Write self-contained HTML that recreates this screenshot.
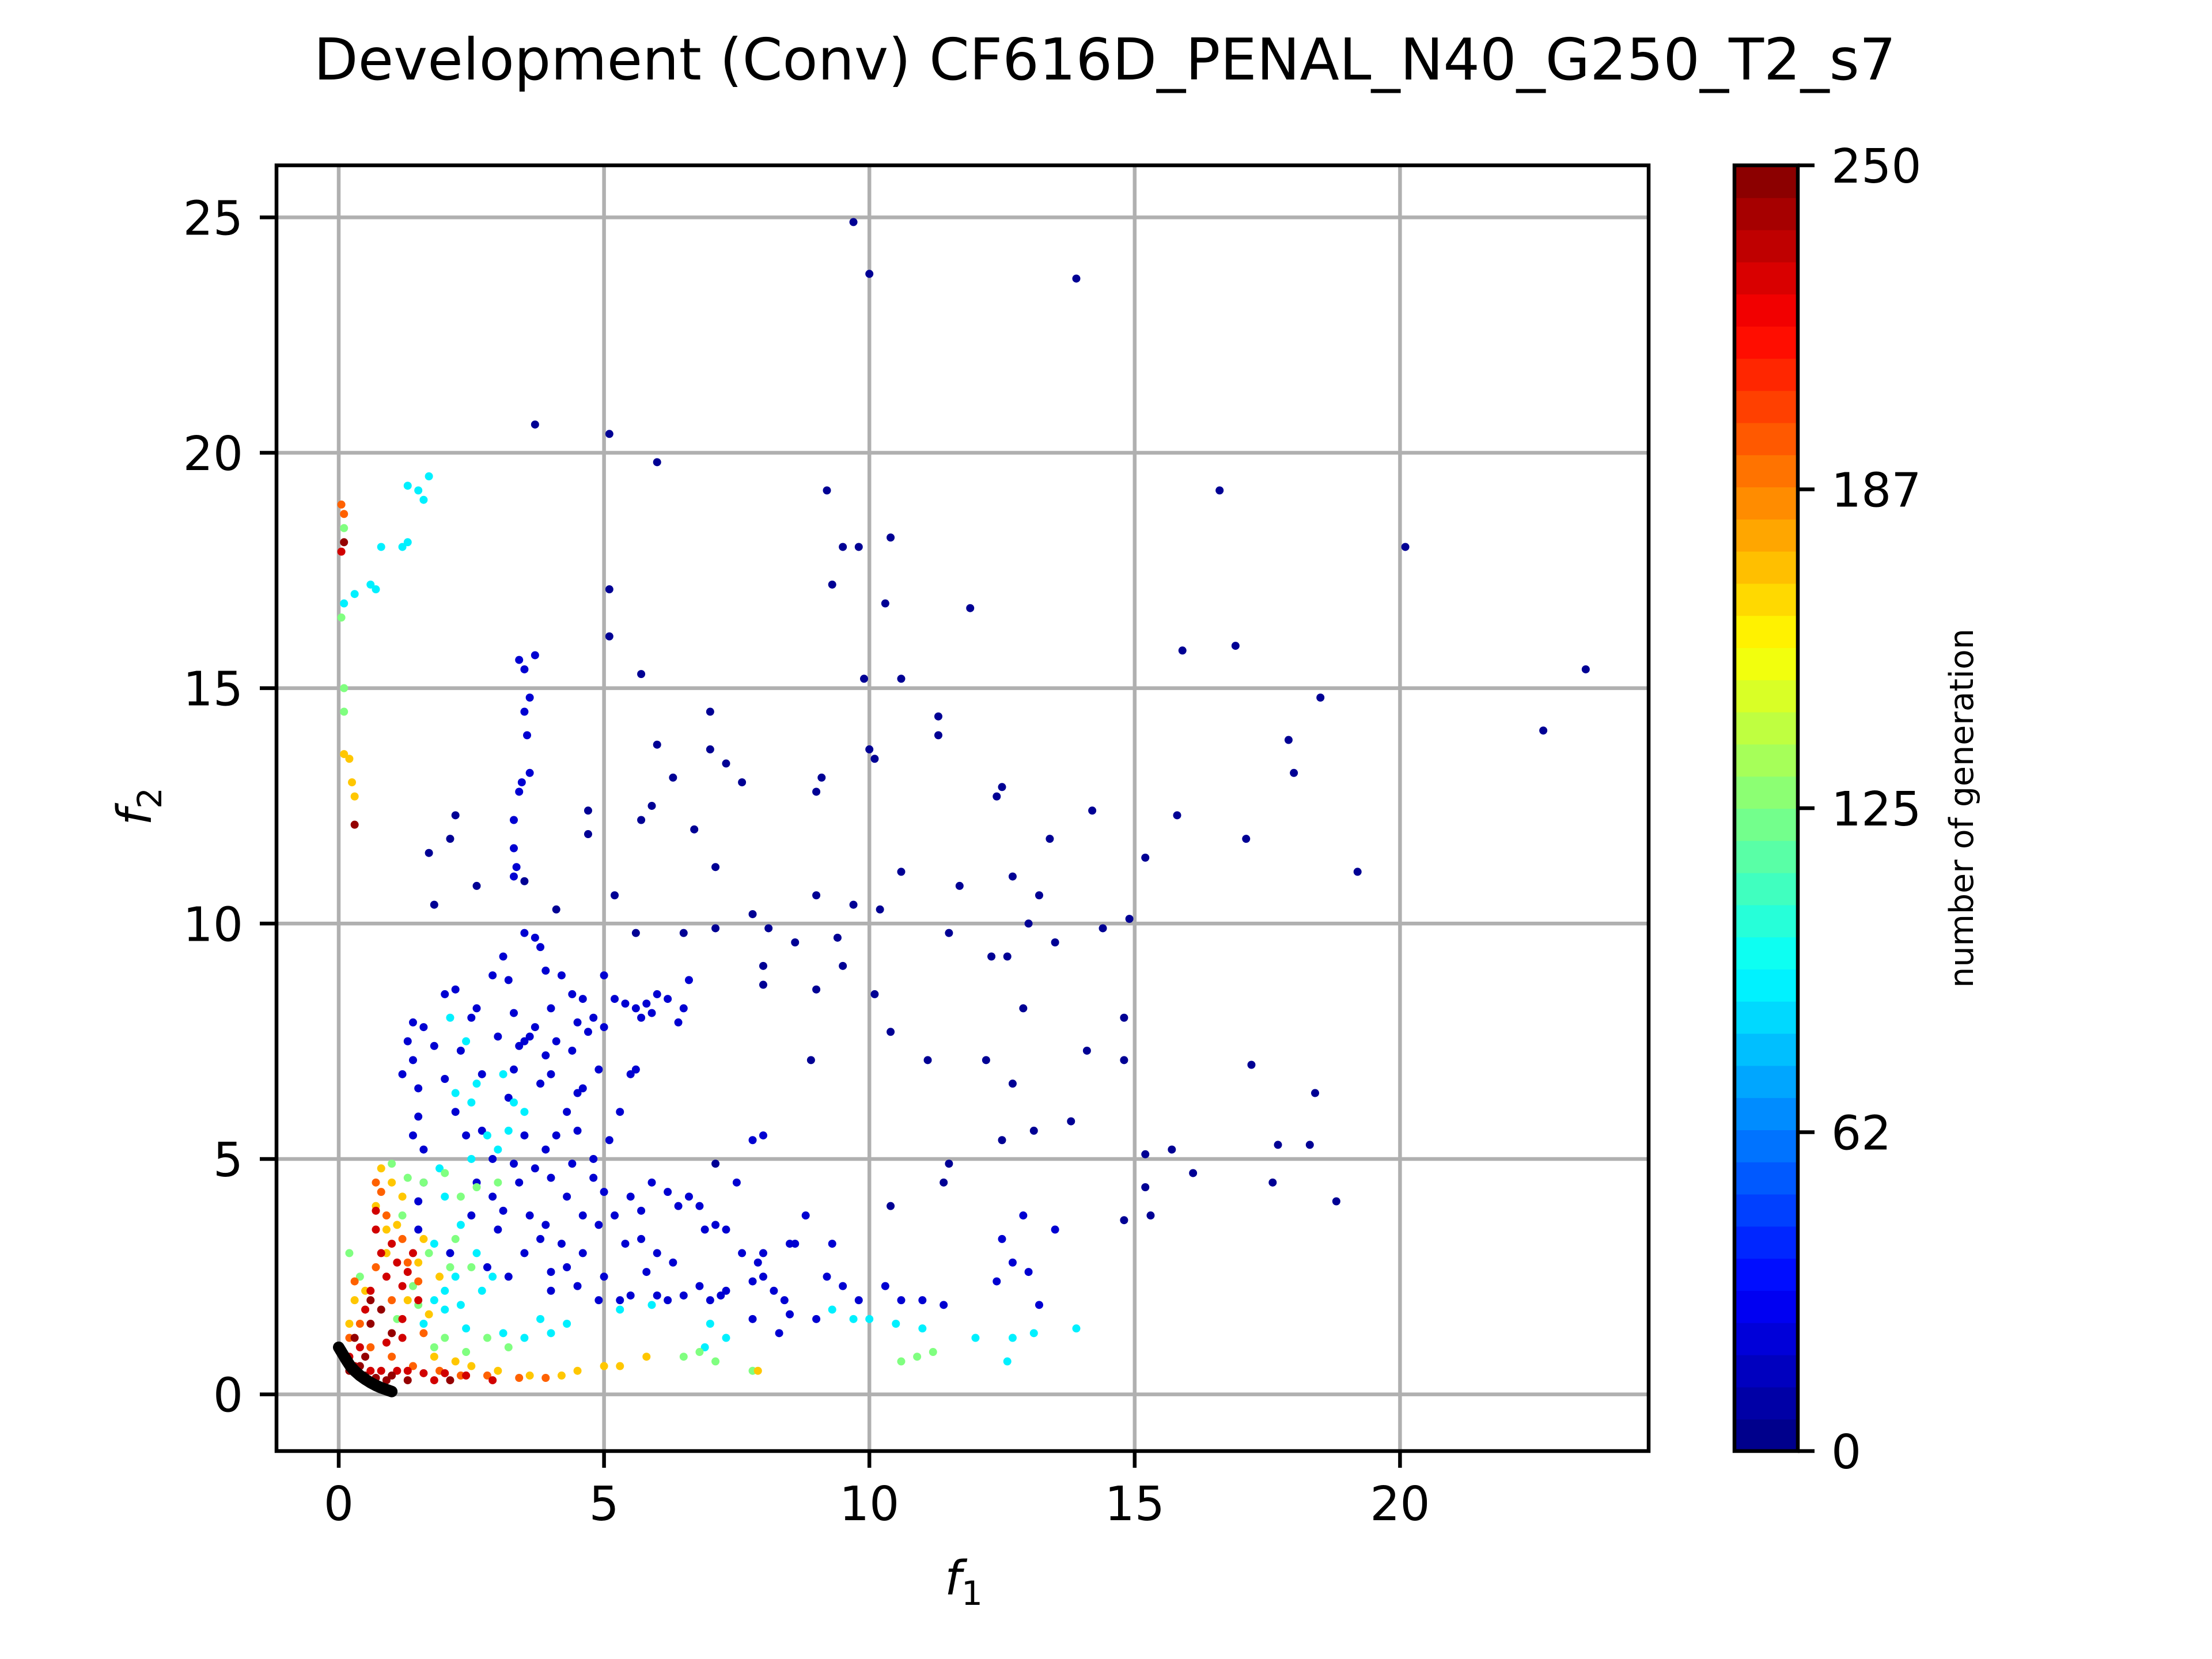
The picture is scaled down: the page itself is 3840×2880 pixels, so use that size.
<!DOCTYPE html>
<html><head><meta charset="utf-8"><style>
html,body{margin:0;padding:0;background:#fff;}
svg{display:block;font-family:"DejaVu Sans","Liberation Sans",sans-serif;}
</style></head><body>
<svg id="fig" width="3840" height="2880" viewBox="0 0 3840 2880" xmlns="http://www.w3.org/2000/svg">
<rect width="3840" height="2880" fill="#fff"/>
<text x="1918" y="138" font-size="100" text-anchor="middle">Development (Conv) CF616D_PENAL_N40_G250_T2_s7</text>
<g id="grid"></g><g id="pts"></g><g id="axes"></g><g id="cbar"></g>
</svg>
<script>
const xTicks=[0,5,10,15,20];
const yTicks=[0,5,10,15,20,25];
const cbarTicks=[0,62,125,187,250];
const groupGen=[5,20,90,125,170,195,230,245];
const outlierPts=[[9.7,24.9],[10.0,23.8],[13.9,23.7],[3.7,20.6],[5.1,20.4],[6.0,19.8],[9.2,19.2],[16.6,19.2],[20.1,18.0],[10.4,18.2],[9.5,18.0],[9.8,18.0],[9.3,17.2],[10.3,16.8],[11.9,16.7],[5.1,17.1],[5.1,16.1],[16.9,15.9],[15.9,15.8],[23.5,15.4],[10.6,15.2],[9.9,15.2],[5.7,15.3],[18.5,14.8],[7.0,14.5],[11.3,14.4],[11.3,14.0],[22.7,14.1],[17.9,13.9],[6.0,13.8],[7.0,13.7],[10.0,13.7],[10.1,13.5],[18.0,13.2],[9.1,13.1],[7.6,13.0],[6.3,13.1],[7.3,13.4],[12.5,12.9],[9.0,12.8],[5.9,12.5],[12.4,12.7],[14.2,12.4],[15.8,12.3],[2.2,12.3],[4.7,12.4],[5.7,12.2],[6.7,12.0],[4.7,11.9],[2.1,11.8],[13.4,11.8],[17.1,11.8],[1.7,11.5],[7.1,11.2],[10.6,11.1],[15.2,11.4],[19.2,11.1],[11.7,10.8],[12.7,11.0],[2.6,10.8],[3.5,10.9],[5.2,10.6],[9.0,10.6],[13.2,10.6],[1.8,10.4],[9.7,10.4],[10.2,10.3],[7.8,10.2],[4.1,10.3],[13.0,10.0],[14.9,10.1],[5.6,9.8],[6.5,9.8],[7.1,9.9],[8.1,9.9],[8.6,9.6],[9.4,9.7],[11.5,9.8],[13.5,9.6],[14.4,9.9],[9.5,9.1],[12.3,9.3],[12.6,9.3],[8.0,9.1],[10.1,8.5],[9.0,8.6],[8.0,8.7],[10.4,7.7],[11.1,7.1],[12.2,7.1],[8.9,7.1],[17.2,7.0],[14.8,8.0],[14.8,7.1],[14.1,7.3],[12.7,6.6],[12.9,8.2],[18.4,6.4],[13.8,5.8],[17.7,5.3],[18.3,5.3],[12.5,5.4],[13.1,5.6],[15.7,5.2],[15.2,5.1],[16.1,4.7],[17.6,4.5],[18.8,4.1],[15.2,4.4],[14.8,3.7],[15.3,3.8],[11.4,4.5],[11.5,4.9],[10.4,4.0],[7.1,4.9]];
const bluePts=[[3.4,15.6],[3.5,15.4],[3.6,14.8],[3.5,14.5],[3.55,14.0],[3.45,13.0],[3.4,12.8],[3.3,12.2],[3.3,11.6],[3.35,11.2],[3.3,11.0],[3.7,15.7],[3.6,13.2],[3.5,9.8],[3.7,9.7],[3.8,9.5],[2.0,8.5],[2.2,8.6],[2.5,8.0],[2.6,8.2],[2.9,8.9],[3.1,9.3],[3.3,8.1],[3.6,7.6],[3.9,7.2],[4.2,8.9],[4.4,8.5],[4.6,8.4],[4.8,8.0],[5.0,8.9],[5.2,8.4],[5.4,8.3],[5.6,8.2],[5.8,8.3],[6.0,8.5],[6.2,8.4],[6.4,7.9],[6.6,8.8],[4.0,6.8],[4.3,6.0],[4.5,6.4],[4.6,6.5],[4.1,5.5],[3.9,5.2],[3.7,4.8],[4.0,4.6],[4.4,4.9],[4.8,4.6],[5.0,4.3],[5.2,3.8],[5.4,3.2],[5.7,3.3],[6.0,3.0],[6.2,4.3],[6.4,4.0],[6.6,4.2],[6.8,4.0],[7.1,3.6],[7.3,3.5],[7.6,3.0],[7.9,2.8],[8.0,2.5],[8.2,2.2],[8.5,3.2],[8.8,3.8],[9.3,3.2],[9.5,2.3],[9.8,2.0],[10.3,2.3],[10.6,2.0],[5.5,2.1],[6.0,2.1],[6.5,2.1],[7.0,2.0],[7.3,2.2],[5.0,2.5],[4.5,2.3],[4.0,2.6],[3.5,3.0],[3.0,3.5],[2.8,2.7],[3.2,2.5],[2.6,4.5],[2.4,5.5],[2.2,6.0],[2.0,6.7],[1.8,7.4],[1.6,7.8],[1.5,6.5],[1.4,5.5],[1.6,4.5],[1.5,3.5],[1.3,7.5],[1.2,6.8],[1.4,7.1],[2.7,6.8],[3.0,7.6],[3.3,6.9],[3.8,6.6],[2.9,5.0],[3.3,4.9],[4.2,3.2],[4.6,3.0],[5.6,6.9],[5.3,6.0],[5.1,5.4],[4.9,3.6],[5.9,4.5],[7.5,4.5],[8.0,5.5],[7.8,5.4],[8.5,1.7],[9.0,1.6],[12.5,3.3],[12.7,2.8],[12.9,3.8],[13.0,2.6],[13.2,1.9],[13.5,3.5],[12.4,2.4],[11.0,2.0],[11.4,1.9],[6.8,2.3],[7.8,1.6],[8.3,1.3],[9.2,2.5],[4.0,8.2],[3.4,7.4],[2.3,7.3],[3.5,5.5],[4.3,2.7],[5.8,2.6],[6.3,2.8],[5.9,8.1],[5.7,8.0],[5.5,6.8],[6.9,3.5],[8.6,3.2],[4.7,7.7],[4.9,6.9],[3.6,3.8],[3.9,3.6],[4.3,4.2],[1.4,7.9],[1.5,5.9],[1.6,5.2],[1.5,4.1],[3.5,7.5],[3.7,7.8],[4.1,7.5],[4.4,7.3],[3.2,6.3],[2.7,5.6],[2.9,4.2],[3.1,3.9],[3.8,3.3],[4.0,2.2],[4.9,2.0],[5.3,2.0],[6.2,2.0],[7.2,2.1],[7.8,2.4],[8.0,3.0],[8.4,2.0],[4.5,5.6],[4.8,5.0],[5.5,4.2],[5.7,3.9],[4.6,3.8],[3.4,4.5],[2.5,3.8],[2.1,3.0],[6.5,8.2],[5.0,7.8],[4.5,7.9],[3.9,9.0],[3.2,8.8]];
const cyanPts=[[1.2,18.0],[1.3,18.1],[1.3,19.3],[1.5,19.2],[1.6,19.0],[1.7,19.5],[2.1,8.0],[2.4,7.5],[2.2,6.4],[2.5,6.2],[2.8,5.5],[3.1,6.8],[3.3,6.2],[3.5,6.0],[3.0,5.2],[2.5,5.0],[2.0,4.2],[2.3,3.6],[2.6,3.0],[2.2,2.5],[1.8,2.0],[2.0,1.8],[2.4,1.4],[1.6,1.5],[10.0,1.6],[10.5,1.5],[11.0,1.4],[12.0,1.2],[12.7,1.2],[13.1,1.3],[13.9,1.4],[12.6,0.7],[9.7,1.6],[9.3,1.8],[7.3,1.2],[6.9,1.0],[7.0,1.5],[3.1,1.3],[3.5,1.2],[4.0,1.3],[4.3,1.5],[5.3,1.8],[5.9,1.9],[0.3,17.0],[0.6,17.2],[0.7,17.1],[0.8,18.0],[0.1,16.8],[3.8,1.6],[1.8,3.2],[2.7,2.2],[2.0,2.2],[2.3,1.9],[2.9,2.5],[3.2,5.6],[2.6,6.6],[1.9,4.8]];
const greenPts=[[0.05,16.5],[0.1,15.0],[0.1,14.5],[1.0,4.9],[1.3,4.6],[1.6,4.5],[2.0,4.7],[2.3,4.2],[2.6,4.4],[3.0,4.5],[1.2,3.8],[1.7,3.0],[1.4,2.3],[2.2,3.3],[2.5,2.7],[2.0,1.2],[2.4,0.9],[2.8,1.2],[3.2,1.0],[6.5,0.8],[6.8,0.9],[7.1,0.7],[7.8,0.5],[10.6,0.7],[10.9,0.8],[11.2,0.9],[0.2,3.0],[0.4,2.5],[1.1,1.6],[0.1,18.4],[1.8,1.0],[1.5,1.9],[2.1,2.7]];
const yellowPts=[[0.1,13.6],[0.2,13.5],[0.25,13.0],[0.3,12.7],[0.8,4.8],[1.0,4.5],[0.7,4.0],[1.1,3.6],[1.5,2.8],[1.9,2.5],[1.3,2.0],[0.5,2.2],[0.3,2.0],[1.7,1.7],[1.8,0.8],[2.2,0.7],[2.5,0.6],[3.0,0.5],[3.6,0.4],[4.2,0.4],[4.5,0.5],[5.0,0.6],[5.3,0.6],[5.8,0.8],[7.9,0.5],[0.9,3.0],[0.2,1.5],[1.2,4.2],[0.9,3.5],[1.6,3.3]];
const orangePts=[[0.05,18.9],[0.1,18.7],[0.8,4.3],[0.9,3.8],[1.2,3.3],[1.5,2.4],[1.0,2.0],[0.4,1.5],[0.2,1.2],[1.0,0.8],[1.4,0.6],[1.9,0.5],[2.3,0.4],[2.8,0.4],[3.4,0.35],[3.9,0.35],[0.3,2.4],[0.7,2.7],[1.6,1.3],[0.6,1.0],[0.7,4.5],[1.3,2.8]];
const redPts=[[0.7,3.5],[0.8,3.0],[0.9,2.5],[1.1,2.8],[1.3,2.6],[1.5,2.0],[1.2,1.6],[0.5,1.8],[0.4,1.0],[0.3,0.6],[0.6,0.5],[0.8,0.5],[1.1,0.5],[1.3,0.5],[1.6,0.45],[2.0,0.45],[2.4,0.4],[2.9,0.3],[1.8,0.3],[0.2,0.8],[1.2,1.2],[1.4,3.0],[0.05,17.9],[0.6,2.2],[0.7,3.9],[1.0,3.2],[1.2,2.3],[0.9,1.1]];
const darkRedPts=[[0.1,18.1],[0.3,12.1],[0.4,0.6],[0.5,0.4],[0.7,0.35],[0.9,0.3],[1.0,0.4],[0.6,1.5],[0.8,1.8],[0.3,1.2],[1.3,0.3],[0.2,0.5],[2.1,0.3],[1.0,1.3],[0.5,0.8],[0.6,2.0]];
const frontPts=[[0.0,1.0],[0.08,0.85],[0.15,0.72],[0.22,0.6],[0.3,0.5],[0.4,0.4],[0.5,0.32],[0.6,0.25],[0.7,0.19],[0.8,0.14],[0.9,0.1],[1.0,0.06]];

const NS='http://www.w3.org/2000/svg';
const X0=480,X1=2862,Y0=287,Y1=2519;
const fx=v=>588+v*92.12;
const fy=v=>2420.6-v*81.73;
const GMAX=250;
function jet(t){const c=v=>Math.round(255*Math.max(0,Math.min(1,v)));
 return `rgb(${c(1.5-Math.abs(4*t-3))},${c(1.5-Math.abs(4*t-2))},${c(1.5-Math.abs(4*t-1))})`;}
function mk(tag,attrs,parent){const e=document.createElementNS(NS,tag);for(const k in attrs)e.setAttribute(k,attrs[k]);parent.appendChild(e);return e;}
const grid=document.getElementById('grid'),pts=document.getElementById('pts'),axes=document.getElementById('axes'),cbar=document.getElementById('cbar');
xTicks.forEach(v=>{const x=fx(v);
 const g=mk('line',{x1:x,x2:x,y1:Y0,y2:Y1,stroke:'#b0b0b0','stroke-width':6.5},grid);
 
 
 const t=mk('line',{x1:x,x2:x,y1:Y1,y2:Y1+29,stroke:'#000','stroke-width':6.5},axes);
 
 
 const l=mk('text',{x:x,y:Y1+29+29+62,'font-size':82,'text-anchor':'middle'},axes);l.textContent=v;
 
 
});
yTicks.forEach(v=>{const y=fy(v);
 const g=mk('line',{x1:X0,x2:X1,y1:y,y2:y,stroke:'#b0b0b0','stroke-width':6.5},grid);
 
 
 const t=mk('line',{x1:X0-29,x2:X0,y1:y,y2:y,stroke:'#000','stroke-width':6.5},axes);
 
 
 const l=mk('text',{x:X0-29-29,y:y+30,'font-size':82,'text-anchor':'end'},axes);l.textContent=v;
 
 
});
const groups=[outlierPts,bluePts,cyanPts,greenPts,yellowPts,orangePts,redPts,darkRedPts];
groups.forEach((arr,i)=>{const col=jet(groupGen[i]/GMAX);
 arr.forEach(p=>{const c=mk('circle',{cx:fx(p[0]),cy:fy(p[1]),r:7,fill:col},pts);
  
  });
});
const fl=mk('polyline',{points:frontPts.map(p=>fx(p[0])+','+fy(p[1])).join(' '),fill:'none',stroke:'#000','stroke-width':20,'stroke-linecap':'round'},pts);


const fr=mk('rect',{x:X0,y:Y0,width:X1-X0,height:Y1-Y0,fill:'none',stroke:'#000','stroke-width':6.5},axes);


const xl=mk('text',{x:1673,y:2768,'font-size':82,'font-style':'italic','text-anchor':'middle'},axes);
xl.innerHTML='f<tspan font-size="58" font-style="normal" dy="18">1</tspan>';


const yl=mk('text',{x:0,y:0,'font-size':82,'font-style':'italic','text-anchor':'middle',transform:'translate(262,1400) rotate(-90)'},axes);
yl.innerHTML='f<tspan font-size="58" font-style="normal" dy="18">2</tspan>';


const CX0=3011,CX1=3121,CY0=287,CY1=2519,NB=40;
for(let i=0;i<NB;i++){const h=(CY1-CY0)/NB;
 const b=mk('rect',{x:CX0,y:CY1-(i+1)*h,width:CX1-CX0,height:h+1,fill:jet((i+0.5)/NB)},cbar);
 
 }
const cf=mk('rect',{x:CX0,y:CY0,width:CX1-CX0,height:CY1-CY0,fill:'none',stroke:'#000','stroke-width':6.5},cbar);


cbarTicks.forEach(v=>{const y=CY1-(v/GMAX)*(CY1-CY0);
 const t=mk('line',{x1:CX1,x2:CX1+29,y1:y,y2:y,stroke:'#000','stroke-width':6.5},cbar);
 
 
 const l=mk('text',{x:CX1+58,y:y+30,'font-size':82},cbar);l.textContent=v;
 
 
});
const cl=mk('text',{x:0,y:0,'font-size':57,'text-anchor':'middle',transform:'translate(3425,1403) rotate(-90)'},cbar);
cl.textContent='number of generation';


</script>
</body></html>
